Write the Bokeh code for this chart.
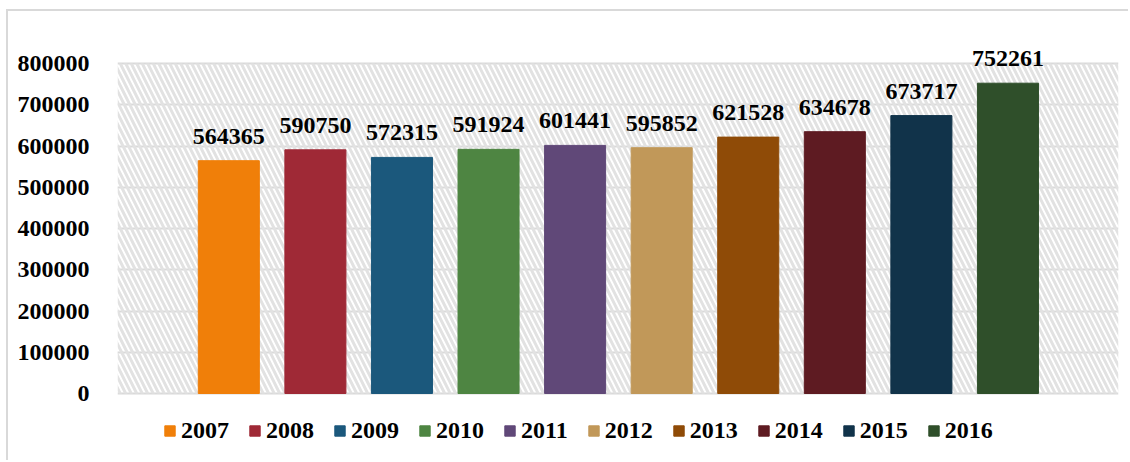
from bokeh.plotting import figure
from bokeh.models import (ColumnDataSource, Range1d, FixedTicker, BasicTickFormatter,
                          Legend, LegendItem, BoxAnnotation, LabelSet)
from bokeh.embed import file_html
from bokeh.resources import INLINE

years = ["2007", "2008", "2009", "2010", "2011", "2012", "2013", "2014", "2015", "2016"]
values = [564365, 590750, 572315, 591924, 601441, 595852, 621528, 634678, 673717, 752261]
colors = ["#F07F09", "#9F2936", "#1B587C", "#4E8542", "#604878",
          "#C19859", "#8F4B07", "#5E1B22", "#11334A", "#2F4F2A"]
y_ticks = [0, 100000, 200000, 300000, 400000, 500000, 600000, 700000, 800000]

FONT = "Liberation Serif"
W, H = 1122, 451
PX = 800000 / 330.0  # data units per pixel

p = figure(width=W, height=H, output_backend="svg", toolbar_location=None,
           x_axis_location=None,
           x_range=Range1d(-1.286, 10.277),
           y_range=Range1d(-62 * PX, 800000 + 43 * PX),
           min_border_left=109, min_border_right=12,
           min_border_top=9, min_border_bottom=7)
p.margin = (9, 0, 0, 6)
p.styles = {"border-top": "2px solid #d9d9d9", "border-left": "2px solid #d9d9d9"}
p.outline_line_color = None
p.background_fill_color = "white"
p.border_fill_color = "white"

# hatched plot area
p.add_layout(BoxAnnotation(bottom=0, top=800000, fill_alpha=0, line_color=None,
                           hatch_pattern="\\", hatch_color="#e2e2e2",
                           hatch_weight=3, hatch_scale=11, level="underlay"))

src = ColumnDataSource(dict(x=list(range(len(years))), top=values, year=years,
                            color=colors, label=[str(v) for v in values]))
bars = p.vbar(x="x", top="top", width=0.705, color="color", source=src)

labels = LabelSet(x="x", y="top", text="label", source=src, text_align="center",
                  text_baseline="alphabetic", y_offset=17, text_font=FONT,
                  text_font_style="bold", text_font_size="24px", text_color="black")
p.add_layout(labels)

p.xgrid.visible = False
p.ygrid.grid_line_color = "#d9d9d9"
p.ygrid.grid_line_width = 2
p.ygrid.ticker = FixedTicker(ticks=y_ticks)
p.yaxis.ticker = FixedTicker(ticks=y_ticks)
p.yaxis.formatter = BasicTickFormatter(use_scientific=False)
p.yaxis.axis_line_color = None
p.yaxis.major_tick_line_color = None
p.yaxis.minor_tick_line_color = None
p.yaxis.major_label_standoff = 22
p.yaxis.major_label_text_font = FONT
p.yaxis.major_label_text_font_style = "bold"
p.yaxis.major_label_text_font_size = "24px"
p.yaxis.major_label_text_color = "black"

items = [LegendItem(label=y, renderers=[bars], index=i) for i, y in enumerate(years)]
legend = Legend(items=items, orientation="horizontal", location=(46, 11),
                glyph_width=13, glyph_height=13, label_standoff=5, spacing=19,
                padding=0, margin=0, border_line_color=None, background_fill_alpha=0,
                label_text_font=FONT, label_text_font_style="bold",
                label_text_font_size="24px", label_text_color="black")
p.add_layout(legend, "center")

open("out.html", "w").write(file_html(p, INLINE))
